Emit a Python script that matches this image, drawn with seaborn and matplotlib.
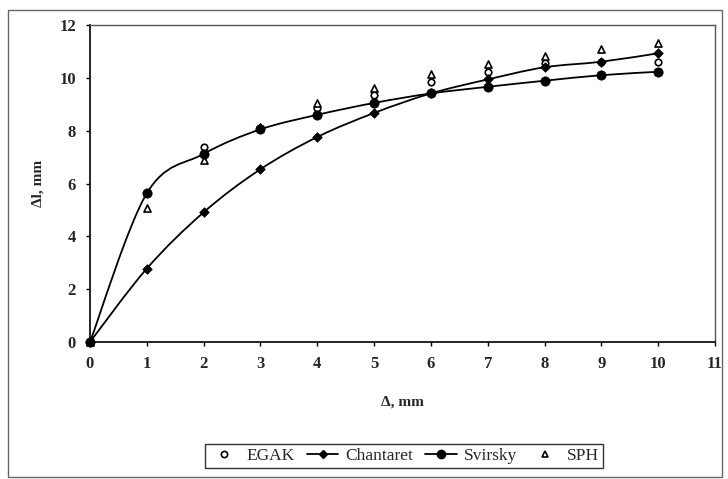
import numpy as np
import pandas as pd
import seaborn as sns
import matplotlib
matplotlib.use("Agg")
import matplotlib.pyplot as plt
from matplotlib.path import Path
from matplotlib.patches import PathPatch, Rectangle
from matplotlib.lines import Line2D

# values
delta = [0, 1, 2, 3, 4, 5, 6, 7, 8, 9, 10]
egak = [0, 5.65, 7.39, 8.10, 8.85, 9.35, 9.85, 10.23, 10.55, 10.61, 10.61]
chantaret = [0, 2.78, 4.91, 6.54, 7.76, 8.67, 9.41, 9.94, 10.40, 10.61, 10.93]
svirsky = [0, 5.63, 7.12, 8.05, 8.60, 9.05, 9.41, 9.66, 9.89, 10.10, 10.23]
sph = [0, 5.06, 6.89, 8.15, 9.05, 9.63, 10.13, 10.52, 10.83, 11.08, 11.30]

x_ticks = list(range(0, 12))
y_ticks = list(range(0, 13, 2))


def smooth_path(x, y):
    """Excel style smoothed line, as cubic bezier segments through the points."""
    pts = np.column_stack([x, y]).astype(float)
    n = len(pts)
    verts = [pts[0]]
    codes = [Path.MOVETO]
    for i in range(n - 1):
        p0 = pts[i - 1] if i > 0 else pts[i]
        p1 = pts[i]
        p2 = pts[i + 1]
        p3 = pts[i + 2] if i + 2 < n else pts[i + 1]
        c1 = p1 + (p2 - p0) / 6.0
        c2 = p2 - (p3 - p1) / 6.0
        verts += [c1, c2, p2]
        codes += [Path.CURVE4] * 3
    return Path(verts, codes)


sns.set_style("white")
plt.rcParams['font.family'] = ['Liberation Serif', 'DejaVu Serif']

fig = plt.figure(figsize=(7.28, 4.79), dpi=100)
ax = fig.add_axes([90 / 728, 137 / 479, 625 / 728, 317 / 479])

df = pd.DataFrame({'delta': delta, 'EGAK': egak, 'Chantaret': chantaret,
                   'Svirsky': svirsky, 'SPH': sph})

# smoothed lines
for col in ['Chantaret', 'Svirsky']:
    ax.add_patch(PathPatch(smooth_path(df['delta'], df[col]), facecolor='none',
                           edgecolor='black', lw=1.3, zorder=2))

# open markers first, the filled ones sit on top of them
sns.scatterplot(data=df, x='delta', y='EGAK', marker='o', s=22, facecolor='white',
                edgecolor='black', linewidth=1.2, ax=ax, zorder=3, legend=False)
sns.scatterplot(data=df, x='delta', y='SPH', marker='^', s=26, facecolor='white',
                edgecolor='black', linewidth=1.2, ax=ax, zorder=3, legend=False)
sns.scatterplot(data=df, x='delta', y='Chantaret', marker='D', s=24, color='black',
                edgecolor='black', linewidth=0.5, ax=ax, zorder=4, legend=False)
sns.scatterplot(data=df, x='delta', y='Svirsky', marker='o', s=45, color='black',
                edgecolor='black', linewidth=0.5, ax=ax, zorder=4, legend=False)
for coll in ax.collections:
    coll.set_clip_on(False)

ax.set_xlim(0, 11)
ax.set_ylim(0, 12)
ax.set_xticks(x_ticks)
ax.set_yticks(y_ticks)
ax.tick_params(direction='out', length=3, width=1, color='black', labelsize=12,
               bottom=True, left=True)
for lab in ax.get_xticklabels() + ax.get_yticklabels():
    lab.set_fontweight('bold')
ax.tick_params(axis='x', pad=7)
ax.tick_params(axis='y', pad=7)

for s in ['left', 'bottom']:
    ax.spines[s].set_color('black')
    ax.spines[s].set_linewidth(1.2)
for s in ['top', 'right']:
    ax.spines[s].set_color('#555555')
    ax.spines[s].set_linewidth(1.0)

ax.set_xlabel('Δ, mm', fontsize=11, fontweight='bold', labelpad=17)
ax.set_ylabel('Δl, mm', fontsize=11, fontweight='bold', labelpad=11)

handles = [
    Line2D([], [], ls='none', marker='o', ms=4.5, mfc='white', mec='black', mew=1.2),
    Line2D([], [], color='black', lw=1.3, marker='D', ms=4.5, mfc='black', mec='black'),
    Line2D([], [], color='black', lw=1.3, marker='o', ms=6, mfc='black', mec='black'),
    Line2D([], [], ls='none', marker='^', ms=5, mfc='white', mec='black', mew=1.2),
]
leg = fig.legend(handles, ['EGAK', 'Chantaret', 'Svirsky', 'SPH'], ncol=4,
                 loc='center', bbox_to_anchor=(404 / 728, 1 - 456 / 479),
                 frameon=True, fancybox=False, fontsize=12.5, handlelength=1.8,
                 handletextpad=0.4, columnspacing=0.7, borderpad=0.2)
leg.get_frame().set_edgecolor('black')
leg.get_frame().set_linewidth(1.0)

# outer frame of the pasted chart
fig.patches.append(Rectangle((8 / 728, 2 / 479), 714 / 728, 467 / 479,
                             transform=fig.transFigure, fill=False,
                             edgecolor='#666666', lw=1.0))

fig.savefig('out.png', dpi=100)
